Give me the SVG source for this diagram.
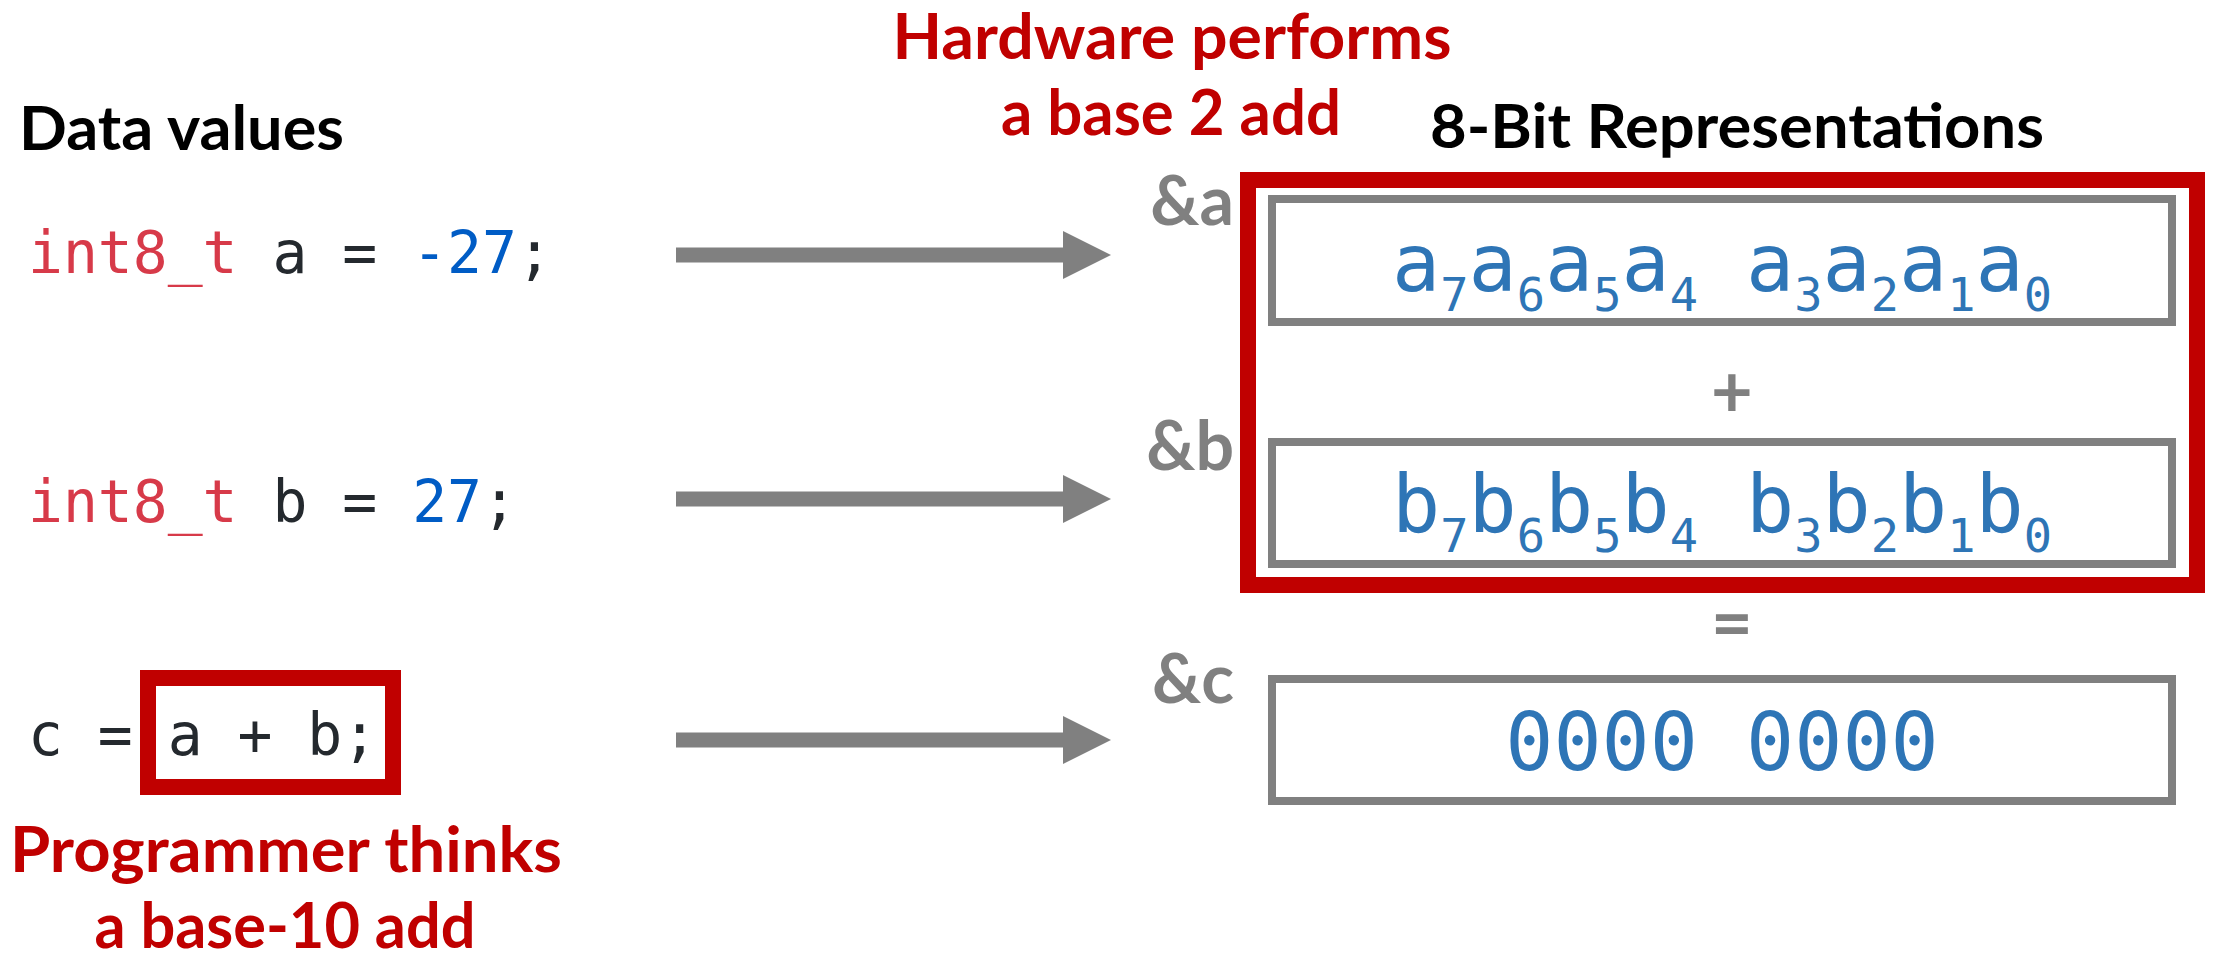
<svg xmlns="http://www.w3.org/2000/svg" width="2216" height="957" viewBox="0 0 2216 957">
<style>
.head{font-family:Lato,"Open Sans","Liberation Sans",sans-serif;font-weight:bold;font-size:62px;fill:#000}
.red{font-family:Lato,"Open Sans","Liberation Sans",sans-serif;font-weight:bold;font-size:63px;fill:#C00000;text-anchor:middle}
.addr{font-family:Lato,"Open Sans","Liberation Sans",sans-serif;font-weight:bold;font-size:68px;fill:#808080;text-anchor:end}
.op{font-family:Lato,"Open Sans","Liberation Sans",sans-serif;font-weight:bold;font-size:72px;fill:#808080;text-anchor:middle}
.code{font-family:"DejaVu Sans Mono","Liberation Mono",monospace;font-size:58px;fill:#24292E}
.kw{fill:#D73A49}
.num{fill:#005CC5}
.bits{font-family:"DejaVu Sans Mono","Liberation Mono",monospace;font-size:80px;fill:#2E75B6;text-anchor:middle}
.sub{font-size:47px}
.cell{fill:#fff;stroke:#808080;stroke-width:8}
.hl{fill:none;stroke:#C00000;stroke-width:16}
.arrow{fill:#808080}
</style>
<defs>
<path id="arr" d="M0,-7.5 H387 V-24 L435,0 L387,24 V7.5 H0 Z"/>
</defs>

<g id="data-values">
<text class="head" x="19" y="150" textLength="325" lengthAdjust="spacingAndGlyphs">Data values</text>
</g>

<g id="line-a">
<text class="code" x="28" y="273"><tspan class="kw">int8_t</tspan> a = <tspan class="num">-27</tspan>;</text>
</g>

<g id="line-b">
<text class="code" x="28" y="522"><tspan class="kw">int8_t</tspan> b = <tspan class="num">27</tspan>;</text>
</g>

<g id="line-c">
<text class="code" x="28" y="755">c = a + b;</text>
<rect class="hl" x="148" y="678" width="245" height="109"/>
</g>

<g id="programmer-note">
<text class="red" x="286" y="872" textLength="552" lengthAdjust="spacingAndGlyphs">Programmer thinks</text>
<text class="red" x="285" y="948" textLength="381" lengthAdjust="spacingAndGlyphs">a base-10 add</text>
</g>

<g id="hardware-note">
<text class="red" x="1172" y="59" textLength="559" lengthAdjust="spacingAndGlyphs">Hardware performs</text>
<text class="red" x="1171" y="135" textLength="340" lengthAdjust="spacingAndGlyphs">a base 2 add</text>
</g>

<g id="bit-title">
<text class="head" x="1430" y="148" textLength="614" lengthAdjust="spacingAndGlyphs">8-Bit Representations</text>
</g>

<g id="connectors">
<use href="#arr" class="arrow" x="676" y="255"/>
<use href="#arr" class="arrow" x="676" y="499"/>
<use href="#arr" class="arrow" x="676" y="740"/>
</g>

<g id="addr-a">
<text class="addr" x="1234" y="225">&amp;a</text>
</g>
<g id="addr-b">
<text class="addr" x="1234" y="470">&amp;b</text>
</g>
<g id="addr-c">
<text class="addr" x="1234" y="703">&amp;c</text>
</g>

<g id="box-a">
<rect class="cell" x="1272" y="199" width="900" height="123"/>
<text class="bits" x="1722" y="291" xml:space="preserve">a<tspan class="sub" dy="20">7</tspan><tspan dy="-20">a</tspan><tspan class="sub" dy="20">6</tspan><tspan dy="-20">a</tspan><tspan class="sub" dy="20">5</tspan><tspan dy="-20">a</tspan><tspan class="sub" dy="20">4</tspan><tspan dy="-20"> a</tspan><tspan class="sub" dy="20">3</tspan><tspan dy="-20">a</tspan><tspan class="sub" dy="20">2</tspan><tspan dy="-20">a</tspan><tspan class="sub" dy="20">1</tspan><tspan dy="-20">a</tspan><tspan class="sub" dy="20">0</tspan></text>
</g>

<g id="plus">
<text class="op" x="1732" y="417">+</text>
</g>

<g id="box-b">
<rect class="cell" x="1272" y="442" width="900" height="122"/>
<text class="bits" x="1722" y="532" xml:space="preserve">b<tspan class="sub" dy="20">7</tspan><tspan dy="-20">b</tspan><tspan class="sub" dy="20">6</tspan><tspan dy="-20">b</tspan><tspan class="sub" dy="20">5</tspan><tspan dy="-20">b</tspan><tspan class="sub" dy="20">4</tspan><tspan dy="-20"> b</tspan><tspan class="sub" dy="20">3</tspan><tspan dy="-20">b</tspan><tspan class="sub" dy="20">2</tspan><tspan dy="-20">b</tspan><tspan class="sub" dy="20">1</tspan><tspan dy="-20">b</tspan><tspan class="sub" dy="20">0</tspan></text>
</g>

<g id="sum-box">
<rect class="hl" x="1248" y="180" width="949" height="405"/>
</g>

<g id="equals">
<text class="op" x="1732" y="649">=</text>
</g>

<g id="box-c">
<rect class="cell" x="1272" y="679" width="900" height="122"/>
<text class="bits" x="1722" y="770" font-size="78">0000 0000</text>
</g>
</svg>
